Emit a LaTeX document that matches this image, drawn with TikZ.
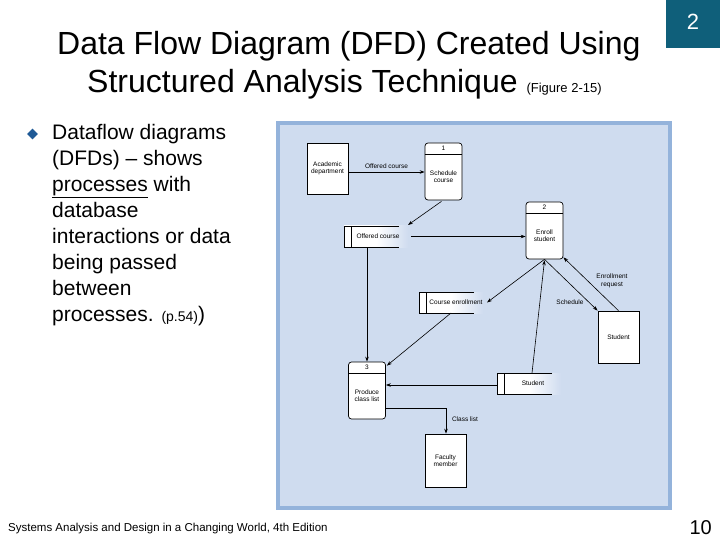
\documentclass[tikz,border=0pt]{standalone}
\usepackage{fontspec}
\setmainfont{Liberation Sans}
\usetikzlibrary{arrows.meta,shapes.geometric,calc}
\definecolor{panel}{HTML}{CFDCEF}
\definecolor{pborder}{HTML}{94B3DB}
\definecolor{teal}{HTML}{0F5F7A}
\definecolor{bulc}{HTML}{1F5A96}
\begin{document}
\begin{tikzpicture}[x=1pt,y=-1pt,
  dtext/.style={font=\fontsize{6.5}{7.5}\selectfont,align=center,inner sep=0pt},
  lab/.style={font=\fontsize{6.5}{7.5}\selectfont,align=center,inner sep=0pt},
  entity/.style={draw,fill=white,line width=0.7pt},
  proc/.style={draw,fill=white,rounded corners=3pt,line width=0.7pt},
  flow/.style={-{Stealth[length=5pt,width=3.5pt]},line width=0.6pt}]
\useasboundingbox (0,0) rectangle (720,540);
\fill[white] (0,0) rectangle (720,540);
\fill[teal] (666,0) rectangle (720,48);
\node[text=white,font=\fontsize{22}{22}\selectfont] (pg) at (693,22) {2};
\node[font=\fontsize{32}{32}\selectfont,anchor=base west,inner sep=0pt] (t1) at (57,55) {Data Flow Diagram (DFD) Created Using};
\node[font=\fontsize{32}{32}\selectfont,anchor=base west,inner sep=0pt] (t2) at (87,93) {Structured Analysis Technique \fontsize{13}{13}\selectfont(Figure 2-15)};
\node[diamond,fill=bulc,minimum width=11pt,minimum height=11pt,inner sep=0pt] (bul) at (32.5,134) {};
\node[anchor=north west,align=left,font=\fontsize{21}{26}\selectfont,inner sep=0pt] (bt) at (52,124)
 {Dataflow diagrams\\(DFDs) -- shows\\\underline{processes} with\\database\\interactions or data\\being passed\\between\\processes. {\fontsize{14}{14}\selectfont(p.54)})};
\node[anchor=base west,font=\fontsize{11.5}{12}\selectfont,inner sep=0pt] (ft) at (8,531) {Systems Analysis and Design in a Changing World, 4th Edition};
\node[anchor=base east,font=\fontsize{20}{20}\selectfont,inner sep=0pt] (pn) at (712,534) {10};
% panel
\fill[pborder] (276,121) rectangle (672,510);
\fill[panel] (280,125) rectangle (668,506);
% entities
\node[entity,minimum width=41pt,minimum height=51pt,dtext] (acad) at (327.5,168.5) {Academic\\department};
\node[entity,minimum width=41pt,minimum height=52pt,dtext] (stud) at (618.5,337) {Student};
\node[entity,minimum width=41pt,minimum height=53pt,dtext] (fac) at (445.5,460.5) {Faculty\\member};
% processes
\newcommand{\dproc}[5]{%
 \node[proc,minimum width=37pt,minimum height=57pt] (#1) at (#2,#3) {};
 \draw[line width=0.7pt] ($(#1.north west)+(0,12)$) -- ($(#1.north east)+(0,12)$);
 \node[dtext] (#1n) at ($(#1.north)+(0,6)$) {#4};
 \node[dtext] (#1t) at ($(#1.center)+(0,5)$) {#5};}
\dproc{p1}{443.5}{171.5}{1}{Schedule\\course}
\dproc{p2}{544.5}{230.5}{2}{Enroll\\student}
\dproc{p3}{367}{390.5}{3}{Produce\\class list}
% data stores
\newcommand{\dstore}[5]{%
 \shade[left color=white,right color=panel,middle color=white] (#2,#3) rectangle ++(64,21);
 \coordinate (#1nw) at (#2,#3);
 \draw[line width=0.7pt] ($(#1nw)+(55,0)$) -- (#1nw) -- ($(#1nw)+(0,21)$) -- ($(#1nw)+(55,21)$);
 \draw[line width=0.7pt] ($(#1nw)+(#4,0)$) -- ($(#1nw)+(#4,21)$);
 \node[dtext,font=\fontsize{6.5}{7}\selectfont] (#1t) at ($(#1nw)+(#5,10.5)$) {\csname dsname#1\endcsname};}
\expandafter\def\csname dsnameds1\endcsname{Offered course}
\expandafter\def\csname dsnameds2\endcsname{Course enrollment}
\expandafter\def\csname dsnameds3\endcsname{Student}
\dstore{ds1}{344}{226}{7}{34}
\dstore{ds2}{419}{292}{7}{37}
\dstore{ds3}{497}{373}{7}{36}
% flows
\draw[flow] (acad.east |- 0,172) -- node[lab,above=3pt] (l1) {Offered course} (p1.west |- 0,172);
\draw[flow] ($(p1.south)+(-2,1)$) -- ($(ds1nw)+(64,-1)$);
\draw[flow] ($(ds1nw)+(67,10.5)$) -- (p2.west |- 0,236.5);
\draw[flow] ($(ds1nw)+(23,21)$) -- (p3.north -| 367,0);
\draw[flow] (p2.south) -- ($(ds2nw)+(68,10.5)$);
\draw[flow] ($(ds2nw)+(32,21)$) -- ($(p3.north east)+(1,4)$);
\draw[flow] (p2.south) -- (stud.north west);
\node[lab] (l2) at (570,302) {Schedule};
\draw[flow] (stud.north) -- ($(p2.south east)+(0,-2)$);
\node[lab] (l3) at (612,281) {Enrollment\\request};
\draw[flow] ($(ds3nw)+(35,0)$) -- ($(p2.south)+(0,1)$);
\draw[flow] (ds3nw |- 0,385) -- (p3.east |- 0,385);
\draw[flow] (p3.east |- 0,408) -- (446,408) -- (fac.north -| 446,0);
\node[lab] (l4) at (465,419) {Class list};
\end{tikzpicture}
\end{document}
